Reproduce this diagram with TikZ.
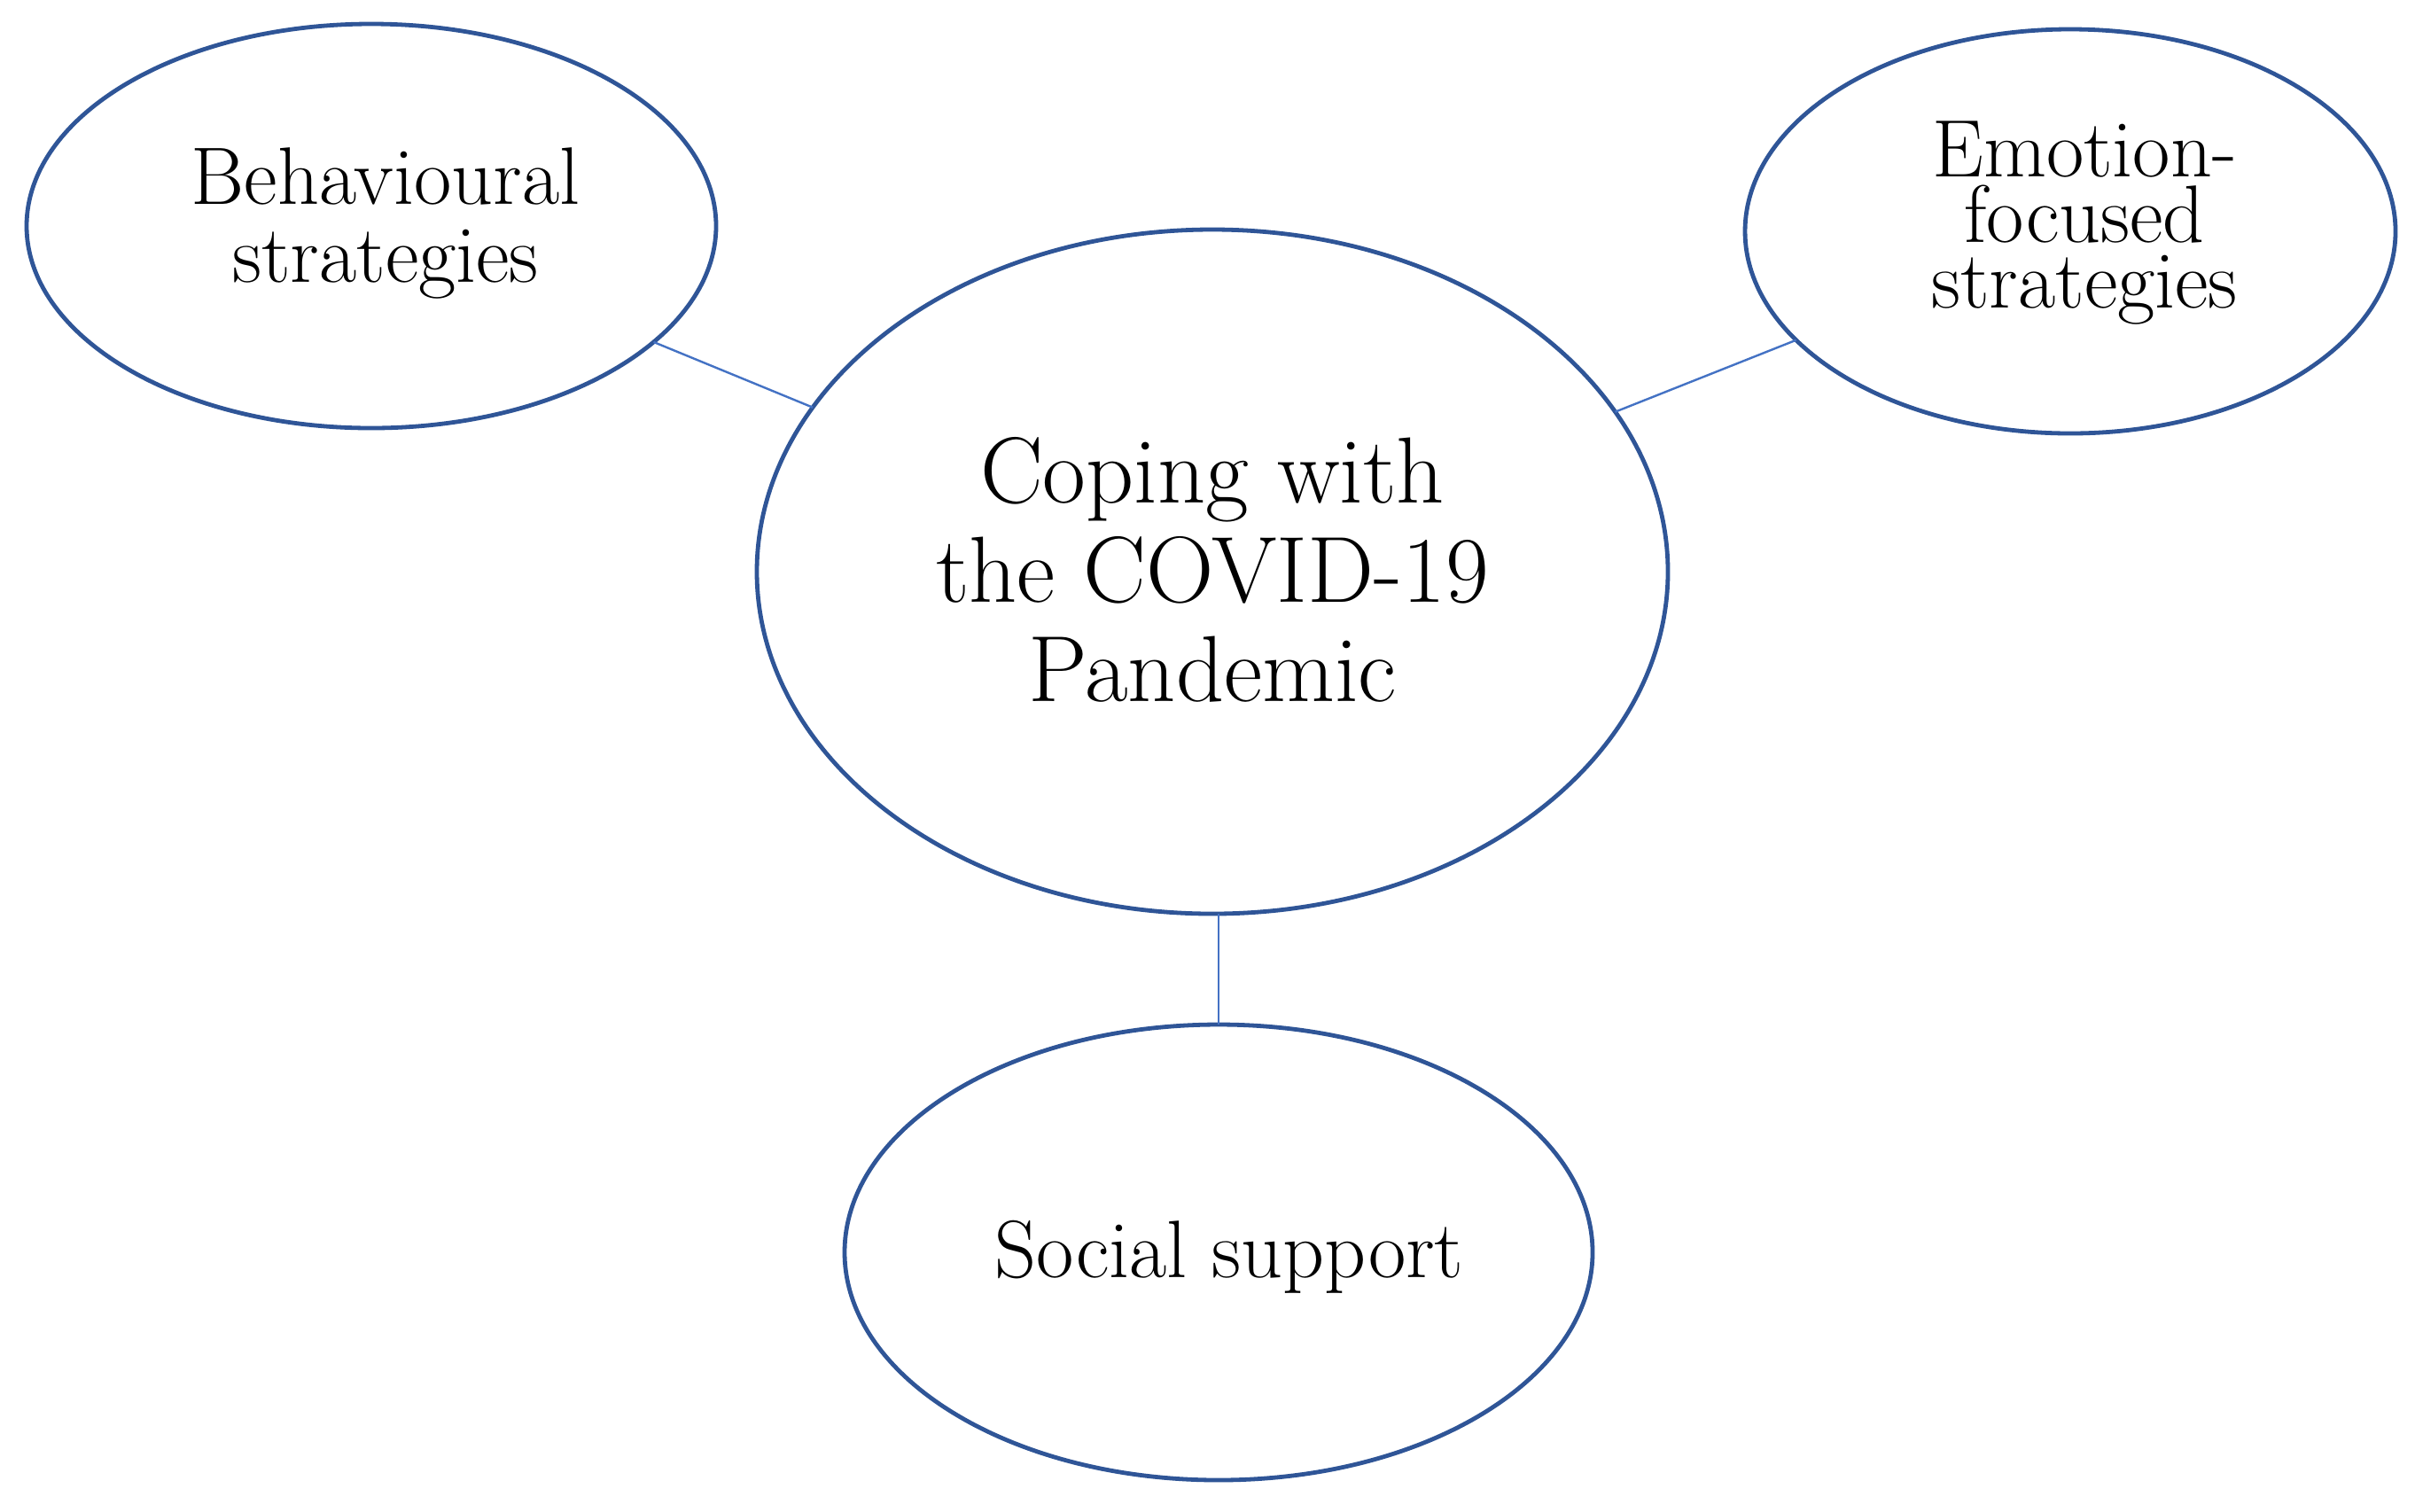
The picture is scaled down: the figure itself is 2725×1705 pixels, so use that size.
\documentclass[tikz,border=0pt]{standalone}
\usetikzlibrary{shapes.geometric}
\definecolor{ellblue}{HTML}{2F5597}
\definecolor{linkblue}{HTML}{4472C4}
\begin{document}
\begin{tikzpicture}[x=0.25pt,y=-0.25pt,
  oval/.style={ellipse,draw=ellblue,line width=1.2pt,inner sep=0pt,outer sep=0pt},
  link/.style={draw=linkblue,line width=0.6pt},
  txt/.style={align=center,inner sep=0pt,text=black}]
\useasboundingbox[fill=white] (0,0) rectangle (2725,1705);
\node[oval,minimum width=194.5pt,minimum height=114pt] (beh) at (419,255) {};
\node[oval,minimum width=183.5pt,minimum height=114pt] (emo) at (2336,261) {};
\node[oval,minimum width=257pt,minimum height=193pt] (cen) at (1368,645) {};
\node[oval,minimum width=211pt,minimum height=128.5pt] (soc) at (1375,1413) {};
\node[txt,font=\fontsize{26.5}{28}\selectfont] (cent) at (1368,643) {Coping with\\the COVID-19\\Pandemic};
\node[txt,font=\fontsize{23}{22}\selectfont] (beht) at (435,252) {Behavioural\\strategies};
\node[txt,font=\fontsize{23}{18.5}\selectfont] (emot) at (2352,252) {Emotion-\\focused\\strategies};
\node[txt,font=\fontsize{23}{24}\selectfont] (soct) at (1387,1418) {Social support};
\draw[link] (beh) -- (cen);
\draw[link] (cen) -- (emo);
\draw[link] (soc.north) -- (soc.north |- cen.south);
\end{tikzpicture}
\end{document}
